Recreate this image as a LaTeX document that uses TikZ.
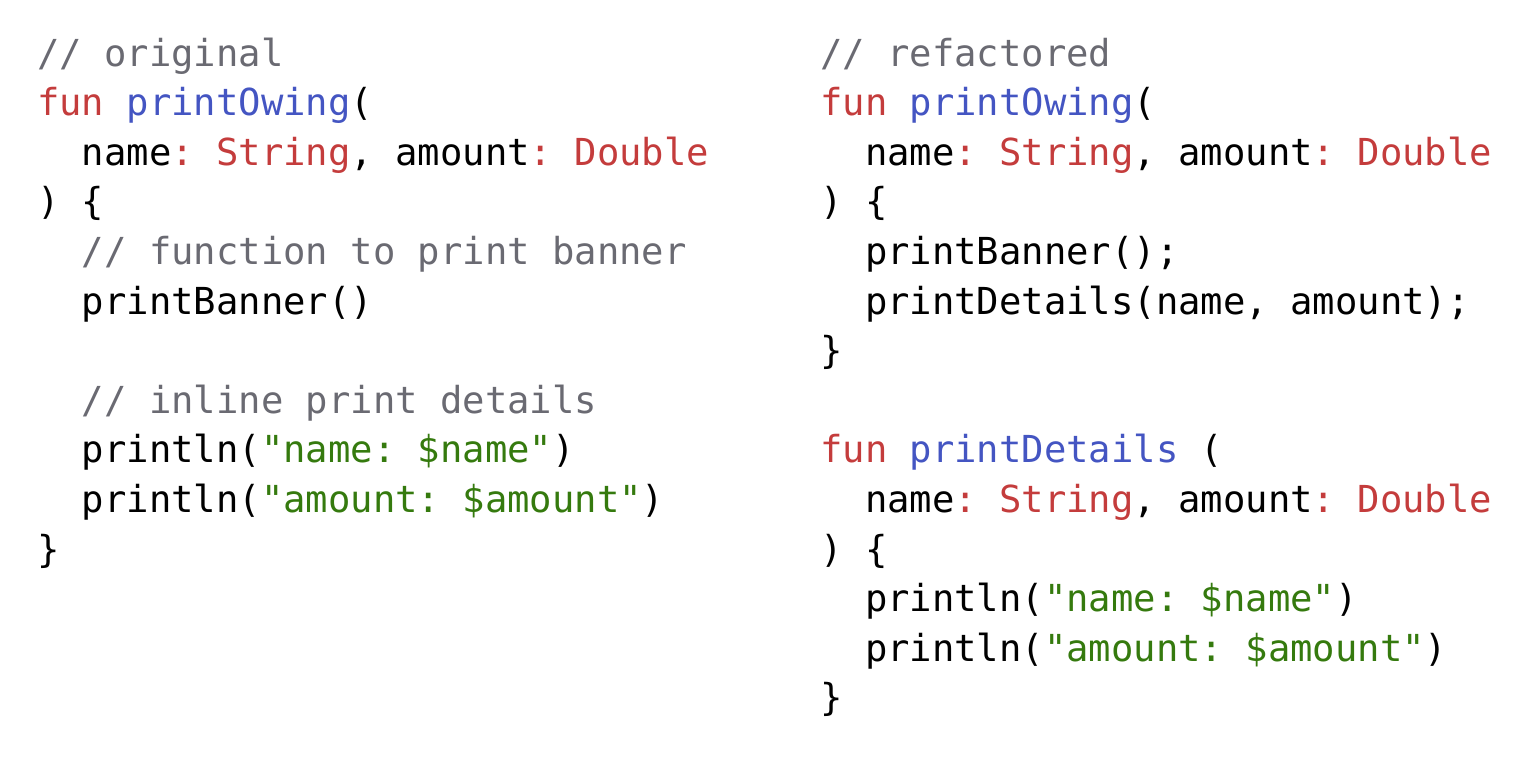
\documentclass[tikz,border=0pt]{standalone}
\usepackage{fontspec}
\setmonofont{DejaVu Sans Mono}
\definecolor{kw}{HTML}{C43C3C}
\definecolor{fn}{HTML}{4455C2}
\definecolor{st}{HTML}{357A0E}
\definecolor{cm}{HTML}{6A6A72}
\newcommand{\K}[1]{\textcolor{kw}{#1}}
\newcommand{\F}[1]{\textcolor{fn}{#1}}
\newcommand{\Sg}[1]{\textcolor{st}{#1}}
\newcommand{\C}[1]{\textcolor{cm}{#1}}
\begin{document}
\begin{tikzpicture}[x=1pt,y=-1pt,
  code/.style={anchor=base west,inner sep=0pt,font=\fontsize{37.2}{49.5}\selectfont\ttfamily,text=black}]
\useasboundingbox (0,0) rectangle (1538,756);
\def\b{66}\def\d{49.6}
\node[code] (l1) at (37,\b) {\C{// original}};
\node[code] (l2) at (37,\b+\d) {\K{fun} \F{printOwing}(};
\node[code] (l3) at (37,\b+2*\d) {\ \ name\K{: String}, amount\K{: Double}};
\node[code] (l4) at (37,\b+3*\d) {) \{};
\node[code] (l5) at (37,\b+4*\d) {\ \ \C{// function to print banner}};
\node[code] (l6) at (37,\b+5*\d) {\ \ printBanner()};
\node[code] (l8) at (37,\b+7*\d) {\ \ \C{// inline print details}};
\node[code] (l9) at (37,\b+8*\d) {\ \ println(\Sg{"name: \$name"})};
\node[code] (l10) at (37,\b+9*\d) {\ \ println(\Sg{"amount: \$amount"})};
\node[code] (l11) at (37,\b+10*\d) {\}};
\node[code] (r1) at (820,\b) {\C{// refactored}};
\node[code] (r2) at (820,\b+\d) {\K{fun} \F{printOwing}(};
\node[code] (r3) at (820,\b+2*\d) {\ \ name\K{: String}, amount\K{: Double}};
\node[code] (r4) at (820,\b+3*\d) {) \{};
\node[code] (r5) at (820,\b+4*\d) {\ \ printBanner();};
\node[code] (r6) at (820,\b+5*\d) {\ \ printDetails(name, amount);};
\node[code] (r7) at (820,\b+6*\d) {\}};
\node[code] (r9) at (820,\b+8*\d) {\K{fun} \F{printDetails} (};
\node[code] (r10) at (820,\b+9*\d) {\ \ name\K{: String}, amount\K{: Double}};
\node[code] (r11) at (820,\b+10*\d) {) \{};
\node[code] (r12) at (820,\b+11*\d) {\ \ println(\Sg{"name: \$name"})};
\node[code] (r13) at (820,\b+12*\d) {\ \ println(\Sg{"amount: \$amount"})};
\node[code] (r14) at (820,\b+13*\d) {\}};
\end{tikzpicture}
\end{document}
